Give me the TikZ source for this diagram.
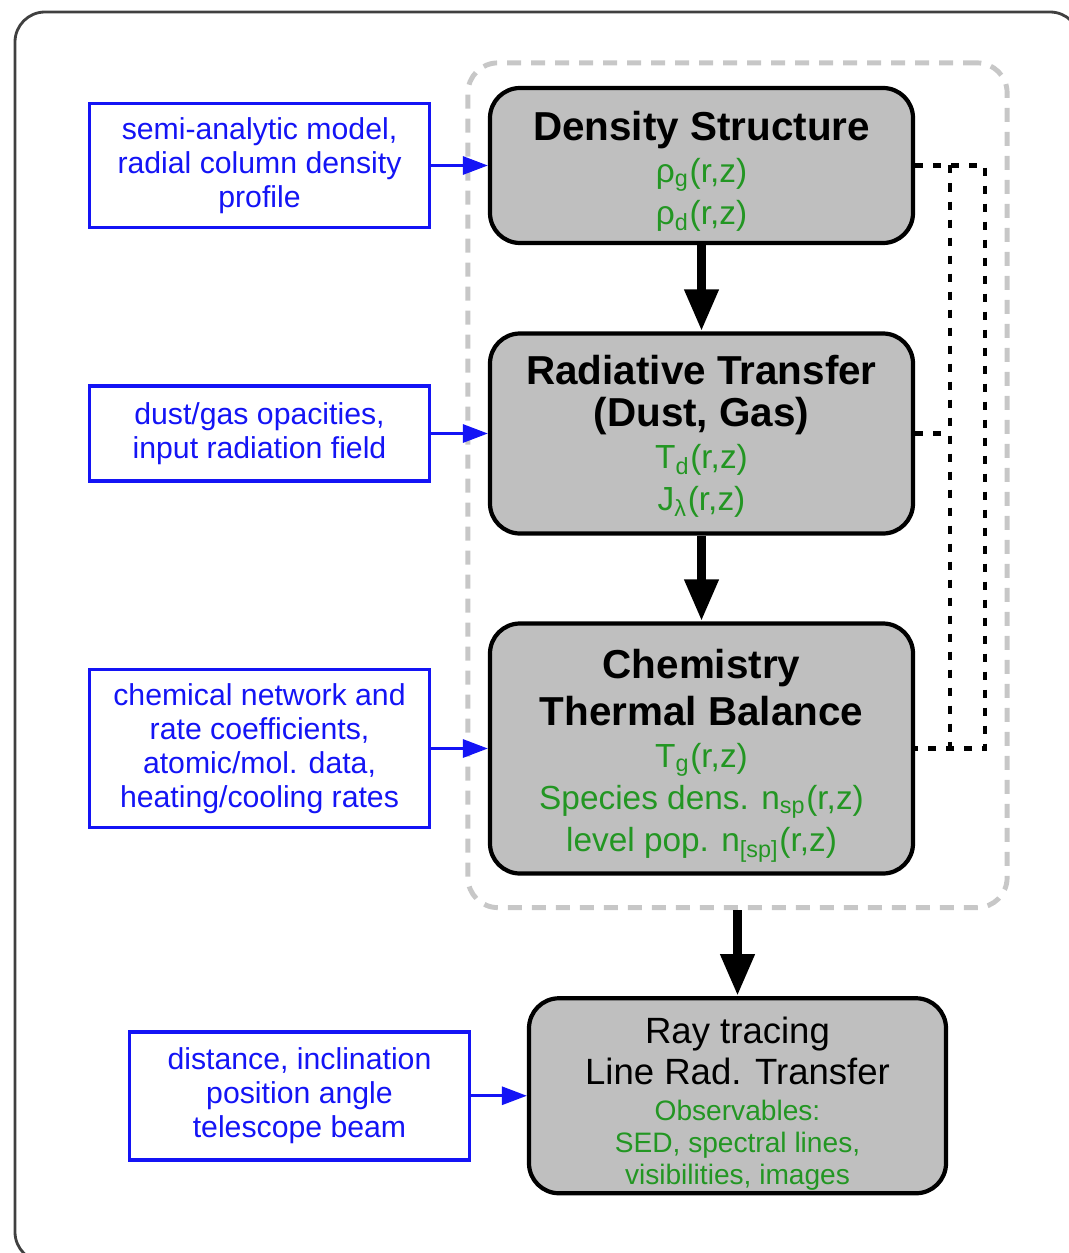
\documentclass[tikz,border=0pt]{standalone}
\usepackage{fontspec}
\setmainfont{Liberation Sans}
\usetikzlibrary{arrows.meta,fit}
\definecolor{outgreen}{RGB}{35,150,35}
\definecolor{inblue}{RGB}{20,20,245}
\begin{document}
\begin{tikzpicture}[node distance = 2.68cm, auto,
    stage/.style={draw=black, line width=1.2pt, fill=black!25, rounded corners=0.3cm,
      minimum width=4.23cm, align=center, inner sep=0pt, text=outgreen,
      font=\fontsize{9.5}{11.9}\selectfont},
    input/.style={draw=inblue, line width=1.1pt, minimum width=3.4cm, align=center,
      inner sep=0pt, text=inblue, font=\fontsize{8.6}{9.7}\selectfont},
    loopbox/.style={draw=black!22, line width=1.4pt, rounded corners=0.3cm,
      dash pattern=on 0.14cm off 0.1cm, inner sep=0pt},
    flow/.style={line width=2.8pt, -{Triangle[width=0.32cm,length=0.42cm]}},
    feed/.style={draw=inblue, line width=0.85pt, -{Triangle[width=0.18cm,length=0.25cm]}},
    loopback/.style={line width=1.2pt, dash pattern=on 0.08cm off 0.1cm},
    frame/.style={draw=black!75, line width=0.8pt, rounded corners=0.3cm}]
    \useasboundingbox (0,0) rectangle (10.68,-12.53);
    \draw[frame] (0.15,-0.12) rectangle (10.80,-12.62);
    \node (DS) [stage, minimum height=1.55cm] at (7.015,-1.655)
      {\rule{0pt}{11.7pt}\textcolor{black}{\fontsize{11.5}{12.2}\selectfont\bfseries Density Structure}\\
       ρ\textsubscript{g}(r,z)\\ ρ\textsubscript{d}(r,z)};
    \node (RT) [stage, minimum height=2.0cm, below of=DS]
      {\rule{0pt}{10pt}\textcolor{black}{\fontsize{11.5}{12.2}\selectfont\bfseries Radiative Transfer}\\
       \textcolor{black}{\fontsize{11.5}{12.2}\selectfont\bfseries (Dust, Gas)}\\
       T\textsubscript{d}(r,z)\\ J\textsubscript{λ}(r,z)};
    \node (CH) [stage, minimum height=2.5cm, below of=RT, node distance=3.15cm]
      {\rule{0pt}{12.5pt}\textcolor{black}{\fontsize{11.5}{12.2}\selectfont\bfseries Chemistry}\\[1.5pt]
       \textcolor{black}{\fontsize{11.5}{12.2}\selectfont\bfseries Thermal Balance}\\
       T\textsubscript{g}(r,z)\\ Species dens. n\textsubscript{sp}(r,z)\\
       level pop. n\textsubscript{[sp]}(r,z)};
    \node (in1) [input, minimum height=1.24cm, left of=DS, node distance=4.42cm]
      {semi-analytic model,\\ radial column density\\ profile};
    \node (in2) [input, minimum height=0.95cm, left of=RT, node distance=4.42cm]
      {dust/gas opacities,\\ input radiation field};
    \node (in3) [input, minimum height=1.58cm, left of=CH, node distance=4.42cm]
      {chemical network and\\ rate coefficients,\\ atomic/mol. data,\\ heating/cooling rates};
    \coordinate (lt) at ([shift={(-0.2,0.23)}]DS.north west);
    \coordinate (rb) at ([shift={(0.92,-0.32)}]CH.south east);
    \node (loop) [loopbox, fit=(lt)(rb)] {};
    \node (RAY) [stage, minimum width=4.17cm, minimum height=1.95cm, below of=loop,
      node distance=6.105cm, font=\fontsize{8}{9.2}\selectfont]
      {\rule{0pt}{12pt}\textcolor{black}{\fontsize{10.4}{12}\selectfont Ray tracing}\\[1pt]
       \textcolor{black}{\fontsize{10.4}{12}\selectfont Line Rad. Transfer}\\[1pt]
       Observables:\\ SED, spectral lines,\\ visibilities, images};
    \node (in4) [input, minimum height=1.28cm, left of=RAY, node distance=4.38cm]
      {distance, inclination\\ position angle\\ telescope beam};
    \draw[flow] (DS) to (RT);
    \draw[flow] (RT) to (CH);
    \draw[flow] (loop) to (RAY);
    \draw[feed] (in1) to (DS);
    \draw[feed] (in2) to (RT);
    \draw[feed] (in3) to (CH);
    \draw[feed] (in4) to (RAY);
    \draw[loopback] (DS.east) -- ++(0.7,0) |- (CH.east);
    \draw[loopback] (RT.east) -- ++(0.35,0) coordinate (fbmid);
    \draw[loopback] (DS.east -| fbmid) -- (CH.east -| fbmid);
\end{tikzpicture}
\end{document}
